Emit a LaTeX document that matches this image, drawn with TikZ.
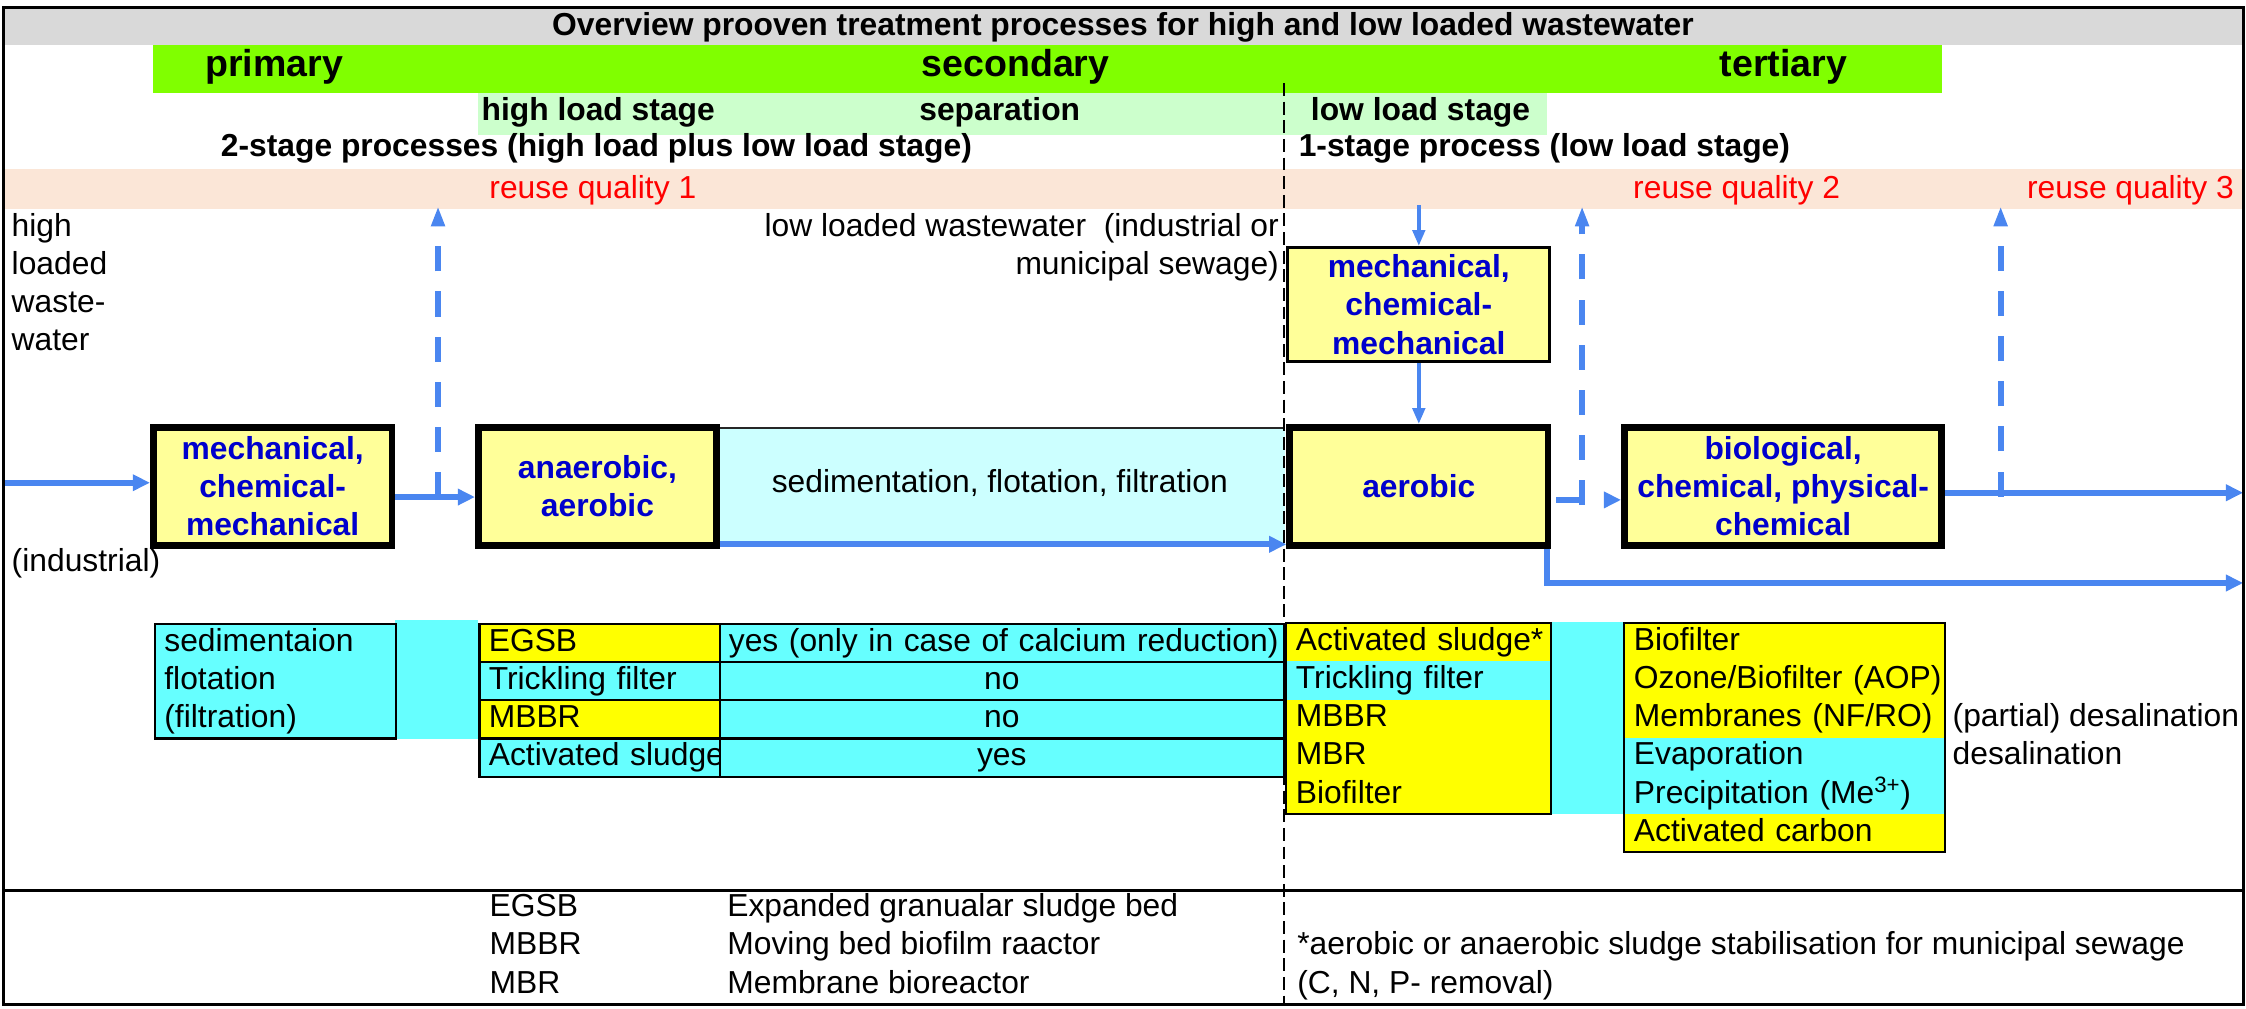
\documentclass[tikz,border=0pt]{standalone}
\usepackage{fontspec}
\setmainfont{Liberation Sans}
\usetikzlibrary{arrows.meta}
\definecolor{titlegray}{HTML}{D9D9D9}
\definecolor{bandgreen}{HTML}{80FF00}
\definecolor{lightgreen}{HTML}{CCFFCC}
\definecolor{peach}{HTML}{FBE6D7}
\definecolor{boxyellow}{HTML}{FFFF99}
\definecolor{sedcyan}{HTML}{CCFFFF}
\definecolor{tcyan}{HTML}{66FFFF}
\definecolor{tyellow}{HTML}{FFFF00}
\definecolor{procblue}{HTML}{0000CC}
\definecolor{flowblue}{HTML}{4A86F0}
\definecolor{reusered}{HTML}{FF0000}
\newcommand{\nf}{\fontsize{22.2}{26.6}\selectfont}
\newcommand{\hf}{\fontsize{26.2}{30}\selectfont\bfseries}
\newcommand{\rs}{\rule[-7.6pt]{0pt}{26.6pt}}
\begin{document}
\begin{tikzpicture}[x=1pt,y=-1pt,
  txt/.style={font=\nf, inner sep=0pt},
  boldtxt/.style={font=\nf\bfseries, inner sep=0pt},
  head/.style={font=\hf, inner sep=0pt},
  reuse/.style={font=\nf, text=reusered, inner sep=0pt},
  proc/.style={draw=black, fill=boxyellow, line width=4.7pt, font=\nf\bfseries, text=procblue, align=center, inner sep=0pt},
  cell/.style={anchor=north west, inner xsep=6.5pt, inner ysep=0pt, font=\nf, align=left},
  lcell/.style={cell, draw=black, line width=1.5pt, text width=154.6pt},
  rcell/.style={cell, align=center, fill=tcyan, draw=black, line width=1.5pt, text width=381pt},
  flow/.style={draw=flowblue, line width=4.3pt, -{Triangle[length=12pt,width=11pt]}},
  thinflow/.style={draw=flowblue, line width=2.6pt, -{Triangle[length=11pt,width=8.5pt]}},
  reuseflow/.style={draw=flowblue, line width=4pt, dash pattern=on 17.5pt off 14pt, -{Triangle[length=14pt,width=9pt]}},
]
\useasboundingbox (0,0) rectangle (1568,704);

% background bands
\fill[titlegray] (2.5,5) rectangle (1566,31.4);
\fill[bandgreen] (106.5,31.4) rectangle (1356,64.7);
\fill[lightgreen] (334,64.7) rectangle (1080,94.2);
\fill[peach] (2.5,118) rectangle (1566,146);

% band texts
\node[boldtxt, anchor=base] (title) at (784,25) {Overview prooven treatment processes for high and low loaded wastewater};
\node[head, anchor=base] (prim) at (191.5,53.5) {primary};
\node[head, anchor=base] (sec) at (709,53.5) {secondary};
\node[head, anchor=base] (tert) at (1245,53.5) {tertiary};
\node[boldtxt, anchor=base west] (hls) at (336,84.3) {high load stage};
\node[boldtxt, anchor=base west] (sep) at (641.6,84.3) {separation};
\node[boldtxt, anchor=base west] (lls) at (915,84.3) {low load stage};
\node[boldtxt, anchor=base west] (two) at (154,109.4) {2-stage processes (high load plus low load stage)};
\node[boldtxt, anchor=base west] (one) at (906.5,109.4) {1-stage process (low load stage)};
\node[reuse, anchor=base west] (rq1) at (341.5,138.5) {reuse quality 1};
\node[reuse, anchor=base west] (rq2) at (1140,138.5) {reuse quality 2};
\node[reuse, anchor=base west] (rq3) at (1415,138.5) {reuse quality 3};

% side texts
\node[txt, anchor=north west, align=left] (hlw) at (8,146) {\rs high\\\rs loaded\\\rs waste-\\\rs water};
\node[txt, anchor=base west] (ind) at (8,399) {(industrial)};
\node[txt, anchor=north east, align=right] (llw) at (893,146) {\rs low loaded wastewater~ (industrial or\\\rs municipal sewage)};

% separation box
\node[fill=sedcyan, minimum width=394.4pt, minimum height=82pt, inner sep=0pt, anchor=north west] (S) at (502.6,299) {};
\draw[line width=1.2pt, black!85] (S.north west) -- (S.north east);
\node[txt, anchor=base] (Stext) at (698,344) {sedimentation, flotation, filtration};

% dividing dashed line
\coordinate (dl1) at (896.5,58);
\coordinate (dl2) at (896.5,701);
\draw[line width=1.6pt, dash pattern=on 9pt off 4pt] (dl1) -- (dl2);

% process boxes
\node[proc, minimum width=166.6pt, minimum height=82.3pt] (A) at (190.35,339.5) {mechanical,\\chemical-\\mechanical};
\node[proc, minimum width=166.3pt, minimum height=82.3pt] (B) at (417.1,339.5) {anaerobic,\\aerobic};
\node[proc, line width=2pt, minimum width=183pt, minimum height=79.8pt] (C) at (990.5,212.6) {mechanical,\\chemical-\\mechanical};
\node[proc, minimum width=180.3pt, minimum height=82.3pt] (D) at (990.5,339.5) {aerobic};
\node[proc, minimum width=221.6pt, minimum height=82.3pt] (E) at (1244.85,339.5) {biological,\\chemical, physical-\\chemical};

% table 1
\fill[tcyan] (276,433) rectangle (334,516);
\node[lcell, fill=tcyan, text width=155.5pt] (t1) at (107.5,435) {\rs sedimentaion\\\rs flotation\\\rs (filtration)};

% table 2
\node[lcell, fill=tyellow] (t2a) at (334,435) {\rs EGSB};
\node[lcell, fill=tcyan] (t2b) at (334,461.6) {\rs Trickling filter};
\node[lcell, fill=tyellow] (t2c) at (334,488.2) {\rs MBBR};
\node[lcell, fill=tcyan] (t2d) at (334,514.8) {\rs \mbox{Activated sludge}};
\node[rcell] (t2e) at (501.6,435) {\rs \mbox{yes (only in case of calcium reduction)}};
\node[rcell] (t2f) at (501.6,461.6) {\rs no};
\node[rcell] (t2g) at (501.6,488.2) {\rs no};
\node[rcell] (t2h) at (501.6,514.8) {\rs yes};

% table 3
\fill[tcyan] (1082.5,434) rectangle (1134,568);
\node[cell, fill=tyellow, text width=171.5pt] (t3a) at (898,435) {\rs \mbox{Activated sludge*}};
\node[cell, fill=tcyan, text width=171.5pt] (t3b) at (898,461.6) {\rs Trickling filter};
\node[cell, fill=tyellow, text width=171.5pt] (t3c) at (898,488.2) {\rs MBBR};
\node[cell, fill=tyellow, text width=171.5pt] (t3d) at (898,514.8) {\rs MBR};
\node[cell, fill=tyellow, text width=171.5pt] (t3e) at (898,541.4) {\rs Biofilter};
\draw[line width=1.5pt] (t3a.north west) rectangle (t3e.south east);

% table 4
\node[cell, fill=tyellow, text width=210.6pt] (t4a) at (1134,435) {\rs Biofilter};
\node[cell, fill=tyellow, text width=210.6pt] (t4b) at (1134,461.6) {\rs \mbox{Ozone/Biofilter (AOP)}};
\node[cell, fill=tyellow, text width=210.6pt] (t4c) at (1134,488.2) {\rs \mbox{Membranes (NF/RO)}};
\node[cell, fill=tcyan, text width=210.6pt] (t4d) at (1134,514.8) {\rs Evaporation};
\node[cell, fill=tcyan, text width=210.6pt] (t4e) at (1134,541.4) {\rs \mbox{Precipitation (Me\textsuperscript{3+})}};
\node[cell, fill=tyellow, text width=210.6pt] (t4f) at (1134,568) {\rs \mbox{Activated carbon}};
\draw[line width=1.5pt] (t4a.north west) rectangle (t4f.south east);
\node[txt, anchor=base west] (desal1) at (1363,507.2) {(partial) desalination};
\node[txt, anchor=base west] (desal2) at (1363,533.8) {desalination};

% flows
\coordinate (in1) at (2.5,337);
\coordinate (j1) at (305.8,347);
\coordinate (r1) at (305.8,144);
\coordinate (c0) at (990.5,143);
\coordinate (q2) at (1104.5,349);
\coordinate (q2b) at (1104.5,352.6);
\coordinate (r2) at (1104.5,144);
\coordinate (e1) at (1566,344);
\coordinate (q3) at (1396.7,346.7);
\coordinate (r3) at (1396.7,144);
\coordinate (s1) at (502.6,380);
\coordinate (o2) at (1566,407);

\draw[flow] (in1) -- (A.west |- in1);
\draw[flow] (A.east |- j1) -- (B.west |- j1);
\draw[reuseflow] (j1) -- (r1);
\draw[flow] (s1) -- (D.west |- s1);
\draw[thinflow] (c0) -- (C);
\draw[thinflow] (C) -- (D);
\draw[flow, dash pattern=on 0pt off 3.5pt on 18pt off 60pt] (D.east |- q2) -- (E.west |- q2);
\draw[reuseflow] (q2b) -- (r2);
\draw[flow] (E.east |- e1) -- (e1);
\draw[reuseflow] (q3) -- (r3);
\draw[flow] ([xshift=-3pt]D.south east) |- (o2);

% legend
\node[txt, anchor=base west] (lg1) at (341.6,640) {EGSB};
\node[txt, anchor=base west] (lg2) at (341.6,666.7) {MBBR};
\node[txt, anchor=base west] (lg3) at (341.6,693.4) {MBR};
\node[txt, anchor=base west] (ld1) at (507.6,640) {Expanded granualar sludge bed};
\node[txt, anchor=base west] (ld2) at (507.6,666.7) {Moving bed biofilm raactor};
\node[txt, anchor=base west] (ld3) at (507.6,693.4) {Membrane bioreactor};
\node[txt, anchor=base west] (fn1) at (905.5,666.7) {*aerobic or anaerobic sludge stabilisation for municipal sewage};
\node[txt, anchor=base west] (fn2) at (905.5,693.4) {(C, N, P- removal)};

% frame
\draw[line width=2pt] (2.5,621.4) -- (1566,621.4);
\draw[line width=2pt] (2.5,5) rectangle (1566,701);
\end{tikzpicture}
\end{document}
